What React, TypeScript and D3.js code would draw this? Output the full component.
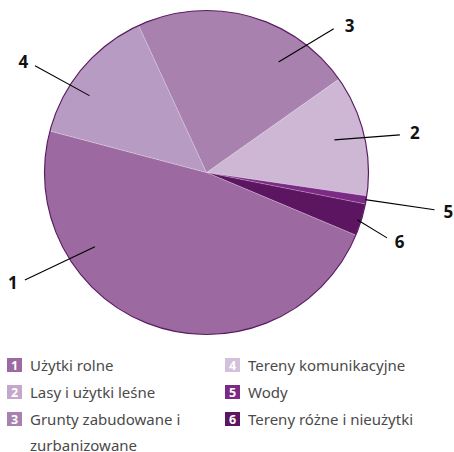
import React from "react";
import * as d3 from "d3";

const categories = ["Użytki rolne", "Lasy i użytki leśne", "Grunty zabudowane i zurbanizowane", "Tereny komunikacyjne", "Wody", "Tereny różne i nieużytki"];
const ids = ["1", "2", "3", "4", "5", "6"];
const values = [47.8, 12.1, 22.1, 14.0, 0.8, 3.2];
const drawOrder = ["2", "5", "6", "1", "4", "3"];
const colors = ["#9c69a0", "#cdb7d4", "#a881af", "#b89bc3", "#7b2a86", "#5c1560"];
const legendColors = ["#9c69a0", "#c4a8cc", "#a881af", "#d3c0da", "#7b2a86", "#5c1560"];

// annotation geometry (polar: angle in degrees clockwise from top, radius in px)
const labelInner = [[236.4, 134], [75.7, 132], [33.1, 132], [303.3, 140], [99.7, 161], [107.4, 158]];
const labelOuter = [[239.4, 211], [79, 197], [41.5, 192], [301.9, 202], [99.3, 231], [109.9, 192]];
const labelText = [[240.3, 223], [79.2, 212], [44.3, 205], [301.1, 214], [99.2, 245], [109.7, 205]];

const W = 454, H = 452;
const cx = 206.5, cy = 172.5, R = 162;
const startDeg = 54.8;

const polar = (deg: number, r: number): [number, number] => {
  const a = (deg * Math.PI) / 180;
  return [cx + r * Math.sin(a), cy - r * Math.cos(a)];
};

export default function App() {
  const rows = ids.map((id, i) => ({ id, name: categories[i], value: values[i], color: colors[i] }));
  const ordered = drawOrder.map((id) => rows.find((r) => r.id === id)!);
  const pie = d3.pie<any>().sort(null).value((d) => d.value)
    .startAngle((startDeg * Math.PI) / 180)
    .endAngle((startDeg * Math.PI) / 180 + 2 * Math.PI);
  const arcs = pie(ordered);
  const arc = d3.arc<any>().innerRadius(0).outerRadius(R);

  const legendRows = [0, 1, 2].map((k) => 365 + k * 27);
  const legendItems = ids.map((id, i) => {
    const col = i < 3 ? 0 : 1;
    const row = i % 3;
    return { id, name: categories[i], x: col === 0 ? 7 : 225, y: legendRows[row], color: legendColors[i] };
  });

  return (
    <svg width={W} height={H} style={{ position: "absolute", left: 0, top: 0 }}>
      <g>
        {arcs.map((a) => (
          <path key={a.data.id} d={arc(a) as string} transform={`translate(${cx},${cy})`} fill={a.data.color} stroke="#ffffff" strokeOpacity={0.35} strokeWidth={0.6} />
        ))}
        <circle cx={cx} cy={cy} r={R} fill="none" stroke="#5a1a62" strokeWidth={1.2} />
      </g>
      <g>
        {ids.map((id, i) => {
          const [x1, y1] = polar(labelInner[i][0], labelInner[i][1]);
          const [x2, y2] = polar(labelOuter[i][0], labelOuter[i][1]);
          const [tx, ty] = polar(labelText[i][0], labelText[i][1]);
          return (
            <g key={id}>
              <line x1={x1} y1={y1} x2={x2} y2={y2} stroke="#000" strokeWidth={1.1} />
              <text x={tx} y={ty} textAnchor="middle" dominantBaseline="central" fontFamily="'Noto Sans', sans-serif" fontWeight={700} fontSize={17} fill="#111">{id}</text>
            </g>
          );
        })}
      </g>
      <g fontFamily="'Noto Sans', sans-serif">
        {legendItems.map((it) => (
          <g key={it.id}>
            <rect x={it.x} y={it.y - 7} width={15} height={14} fill={it.color} />
            <text x={it.x + 7.5} y={it.y} textAnchor="middle" dominantBaseline="central" fontSize={12.5} fontWeight={700} fill="#fff">{it.id}</text>
            {it.id === "3" ? (
              <text x={it.x + 23} y={it.y} dominantBaseline="central" fontSize={15} fill="#4a4a4a">
                <tspan x={it.x + 23}>Grunty zabudowane i</tspan>
                <tspan x={it.x + 23} dy={26}>zurbanizowane</tspan>
              </text>
            ) : (
              <text x={it.x + 23} y={it.y} dominantBaseline="central" fontSize={15} fill="#4a4a4a">{it.name}</text>
            )}
          </g>
        ))}
      </g>
    </svg>
  );
}
